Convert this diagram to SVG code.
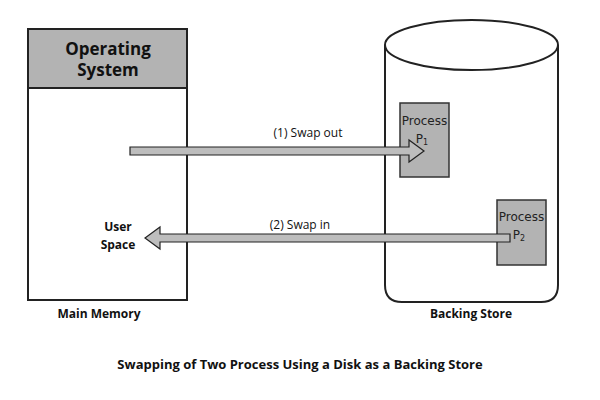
<svg xmlns="http://www.w3.org/2000/svg" width="600" height="400" viewBox="0 0 600 400">
<style>
.t{font-family:"Open Sans","Noto Sans",sans-serif;fill:#111}
.b{font-weight:bold}
.d{font-family:"DejaVu Sans",sans-serif;fill:#222}
.proc{fill:#b3b3b3;stroke:#333;stroke-width:1.5}
.arr{fill:#bdbdbd;stroke:#222;stroke-width:1.2}
</style>
<rect width="600" height="400" fill="#fff"/>
<g id="main-memory">
<rect x="28" y="29" width="159" height="271" fill="#fff" stroke="#222" stroke-width="2"/>
<rect x="28" y="29" width="159" height="59" fill="#b3b3b3" stroke="#222" stroke-width="2"/>
<text class="t b" x="108" y="55" font-size="17" text-anchor="middle">Operating</text>
<text class="t b" x="108" y="76" font-size="17" text-anchor="middle">System</text>
<text class="t b" x="118" y="231" font-size="12" text-anchor="middle">User</text>
<text class="t b" x="118" y="249" font-size="12" text-anchor="middle">Space</text>
<text class="t b" x="99" y="318" font-size="12" text-anchor="middle">Main Memory</text>
</g>
<g id="backing-store">
<path d="M385,45 V285 Q385,302 402,302 H541 Q558,302 558,285 V45" fill="#fff" stroke="#222" stroke-width="2"/>
<ellipse cx="471.5" cy="45" rx="86.5" ry="25" fill="#fff" stroke="#222" stroke-width="2"/>
<text class="t b" x="471" y="318" font-size="12" text-anchor="middle">Backing Store</text>
</g>
<g id="process-p1">
<rect class="proc" x="400" y="103" width="49" height="74"/>
<text class="d" x="424.5" y="125" font-size="12" text-anchor="middle">Process</text>
<text class="d" x="422" y="143" font-size="12" text-anchor="middle">P<tspan font-size="8" dy="2">1</tspan></text>
</g>
<g id="process-p2">
<rect class="proc" x="497" y="200" width="49" height="65"/>
<text class="d" x="521.5" y="221" font-size="12" text-anchor="middle">Process</text>
<text class="d" x="519" y="239" font-size="12" text-anchor="middle">P<tspan font-size="8" dy="2">2</tspan></text>
</g>
<g id="connectors">
<path class="arr" d="M130,147 H409 V140 L424,151 L409,162 V155 H130 Z"/>
<text class="t" x="308" y="137" font-size="12" text-anchor="middle">(1) Swap out</text>
<path class="arr" d="M510,234 H160 V227 L145,238 L160,249 V242 H510 Z"/>
<text class="t" x="300" y="229" font-size="12" text-anchor="middle">(2) Swap in</text>
</g>
<text class="t b" x="300" y="369" font-size="13" text-anchor="middle">Swapping of Two Process Using a Disk as a Backing Store</text>
</svg>
